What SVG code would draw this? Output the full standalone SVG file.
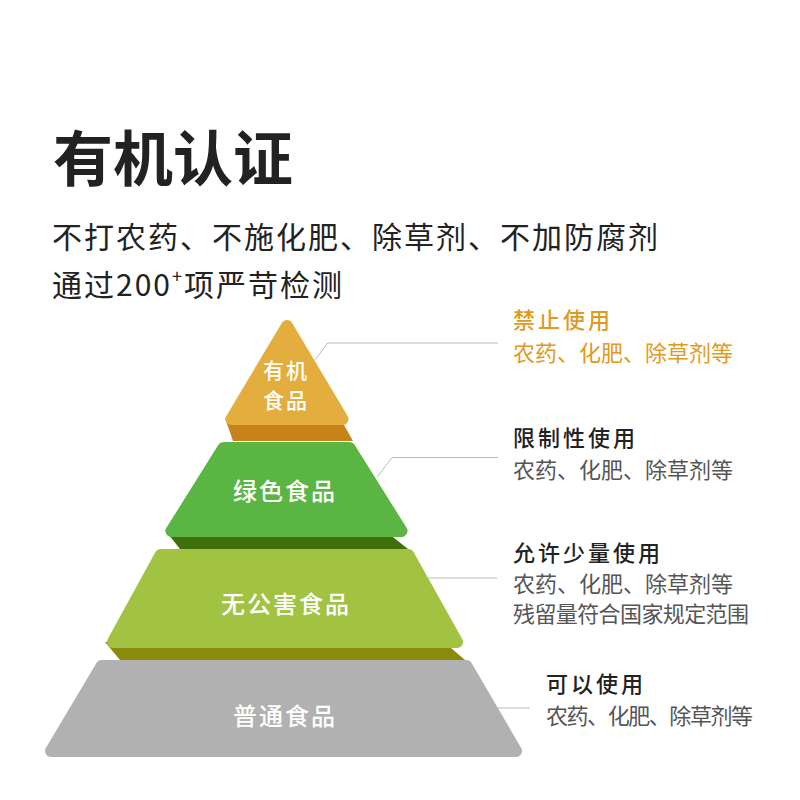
<svg xmlns="http://www.w3.org/2000/svg" width="800" height="800" viewBox="0 0 800 800">
<style>
.cjk{font-family:"Noto Sans CJK SC","Noto Sans",sans-serif}
.tier{stroke-width:12;stroke-linejoin:round}
.tl{fill:#fff;font-size:24px;font-weight:500;text-anchor:middle;letter-spacing:2px}
.conn{fill:none;stroke:#bbbbbb;stroke-width:1}
.ht{font-size:22px;font-weight:500;fill:#222;letter-spacing:3px}
.bt{font-size:22px;fill:#555}
</style>
<rect width="800" height="800" fill="#fff"/>
<g id="title" class="cjk">
<text x="53" y="181" font-size="60" font-weight="700" fill="#222">有机认证</text>
<text x="52" y="248" font-size="30" letter-spacing="2" fill="#222">不打农药、不施化肥、除草剂、不加防腐剂</text>
<text x="52" y="296" font-size="30" letter-spacing="2" fill="#222">通过200<tspan font-size="18" dy="-13">+</tspan><tspan dy="13">项严苛检测</tspan></text>
</g>
<g id="bands">
<polygon points="225,418 340,418 353,441 233,441" fill="#C8821C"/>
<polygon points="165,530 384,530 408,549 180,549" fill="#3F6F0C"/>
<polygon points="105,642 444,642 465,660 120,660" fill="#8C8A0A"/>
</g>
<g id="tier1" class="cjk">
<polygon class="tier" points="287,326 342.5,419 231.5,419" fill="#E3AE3E" stroke="#E3AE3E"/>
<text class="tl" x="286" y="378" style="font-size:21px"><tspan x="286" y="378">有机</tspan><tspan x="286" y="408">食品</tspan></text>
</g>
<g id="tier2" class="cjk">
<polygon class="tier" points="223.5,448 349.5,448 401.5,531 171.5,531" fill="#5BB543" stroke="#5BB543"/>
<text class="tl" x="285" y="500">绿色食品</text>
</g>
<g id="tier3" class="cjk">
<polygon class="tier" points="160.7,555 408.3,555 457,642 113,642" fill="#A2C342" stroke="#A2C342"/>
<text class="tl" x="286" y="613">无公害食品</text>
</g>
<g id="tier4" class="cjk">
<polygon class="tier" points="101.6,666 466.4,666 516,751 51,751" fill="#B1B1B1" stroke="#B1B1B1"/>
<text class="tl" x="285" y="725">普通食品</text>
</g>
<g id="connectors">
<polyline class="conn" points="315,360 327.5,343 498,343"/>
<polyline class="conn" points="377,477 392,457.5 498,457.5"/>
<polyline class="conn" points="428,578 497,578"/>
<polyline class="conn" points="498,708 530,708"/>
</g>
<g id="label1" class="cjk">
<text class="ht" x="513" y="328" style="fill:#E09A20">禁止使用</text>
<text class="bt" x="513" y="361" style="fill:#E09A20">农药、化肥、除草剂等</text>
</g>
<g id="label2" class="cjk">
<text class="ht" x="513" y="446">限制性使用</text>
<text class="bt" x="513" y="478">农药、化肥、除草剂等</text>
</g>
<g id="label3" class="cjk">
<text class="ht" x="513" y="561">允许少量使用</text>
<text class="bt" x="513" y="592">农药、化肥、除草剂等</text>
<text class="bt" x="513" y="622" textLength="236" lengthAdjust="spacing">残留量符合国家规定范围</text>
</g>
<g id="label4" class="cjk">
<text class="ht" x="546" y="692">可以使用</text>
<text class="bt" x="546" y="724" textLength="207" lengthAdjust="spacing">农药、化肥、除草剂等</text>
</g>
</svg>
